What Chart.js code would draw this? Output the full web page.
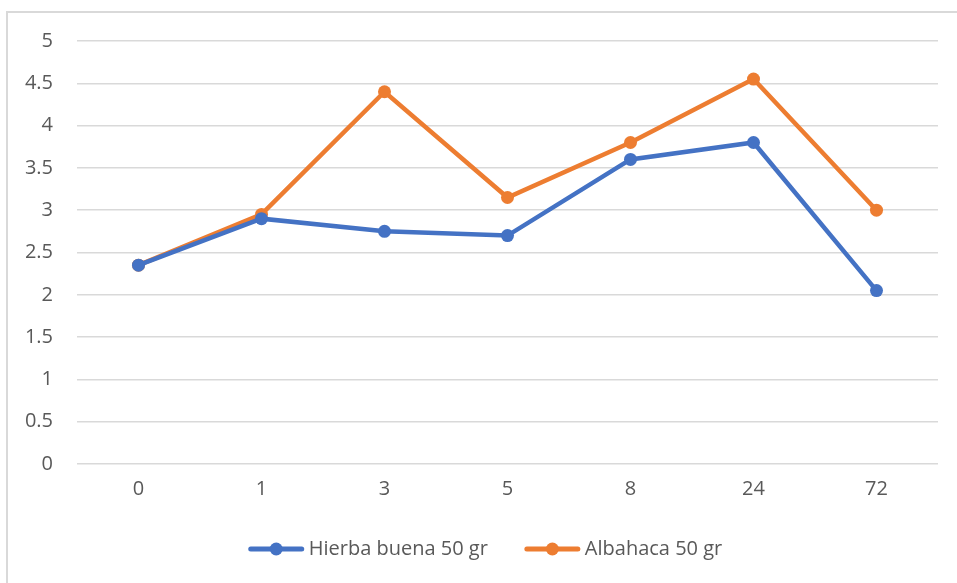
<!DOCTYPE html>
<html>
<head>
<meta charset="utf-8">
<script src="https://cdn.jsdelivr.net/npm/chart.js@4/dist/chart.umd.min.js"></script>
<style>
  html, body { margin: 0; padding: 0; width: 957px; height: 583px; overflow: hidden; background: #fff; }
  #frame { position: absolute; left: 6px; top: 11px; width: 2000px; height: 2000px; border: 2px solid #d9d9d9; box-sizing: border-box; }
  #c { position: absolute; left: 0; top: 0; }
</style>
</head>
<body>
<div id="frame"></div>
<canvas id="c" width="957" height="583"></canvas>
<script>
const categories = ["0", "1", "3", "5", "8", "24", "72"];
const hierbaBuena = [2.35, 2.9, 2.75, 2.7, 3.6, 3.8, 2.05];
const albahaca = [2.35, 2.95, 4.4, 3.15, 3.8, 4.55, 3.0];
const seriesNames = ["Hierba buena 50 gr", "Albahaca 50 gr"];
const seriesColors = ["#4472C4", "#ED7D31"];

const fontFamily = "'Open Sans', sans-serif";
const fontSize = 20;
const font = { family: fontFamily, size: fontSize };
const textColor = '#595959';

// Custom legend: line + dot icon, then label text (Excel style)
const lineLegend = {
  id: 'lineLegend',
  afterDraw(chart) {
    const ctx = chart.ctx;
    const ds = chart.data.datasets;
    ctx.save();
    ctx.font = fontSize + 'px ' + fontFamily;
    const iconW = 55, iconGap = 5, itemGap = 37;
    const widths = ds.map(d => ctx.measureText(d.label).width);
    let total = 0;
    widths.forEach((w, i) => { total += iconW + iconGap + w + (i < ds.length - 1 ? itemGap : 0); });
    const cy = chart.chartArea.bottom + 85;
    const cx = (chart.chartArea.left + chart.chartArea.right) / 2 - 22;
    let x = cx - total / 2;
    ds.forEach((d, i) => {
      ctx.strokeStyle = d.borderColor;
      ctx.lineWidth = 5;
      ctx.lineCap = 'round';
      ctx.beginPath(); ctx.moveTo(x + 2, cy); ctx.lineTo(x + iconW - 2, cy); ctx.stroke();
      ctx.fillStyle = d.borderColor;
      ctx.beginPath(); ctx.arc(x + iconW / 2, cy, 6.5, 0, Math.PI * 2); ctx.fill();
      ctx.fillStyle = textColor;
      ctx.textBaseline = 'middle';
      ctx.textAlign = 'left';
      ctx.fillText(d.label, x + iconW + iconGap, cy);
      x += iconW + iconGap + widths[i] + itemGap;
    });
    ctx.restore();
  }
};

new Chart(document.getElementById('c'), {
  type: 'line',
  data: {
    labels: categories,
    datasets: [
      { label: seriesNames[0], data: hierbaBuena, borderColor: seriesColors[0], backgroundColor: seriesColors[0],
        borderWidth: 4.5, pointRadius: 6.5, pointHoverRadius: 6.5, pointBorderWidth: 0, tension: 0 },
      { label: seriesNames[1], data: albahaca, borderColor: seriesColors[1], backgroundColor: seriesColors[1],
        borderWidth: 4.5, pointRadius: 6.5, pointHoverRadius: 6.5, pointBorderWidth: 0, tension: 0 }
    ]
  },
  plugins: [lineLegend],
  options: {
    responsive: false,
    animation: false,
    devicePixelRatio: 1,
    layout: { padding: { left: 0, right: 19, top: 41, bottom: 59 } },
    plugins: {
      tooltip: { enabled: false },
      legend: { display: false }
    },
    scales: {
      x: {
        offset: true,
        grid: { display: false, drawTicks: false },
        border: { display: false },
        ticks: { font: font, color: textColor, padding: 13 },
        afterFit: (s) => { s.height = 60; }
      },
      y: {
        min: 0, max: 5,
        grid: { color: '#d9d9d9', lineWidth: 1.5, drawTicks: false },
        border: { display: false },
        ticks: { stepSize: 0.5, font: font, color: textColor, padding: 24,
                 callback: (v) => String(Math.round(v * 10) / 10) },
        afterFit: (s) => { s.width = 77; }
      }
    }
  }
});
</script>
</body>
</html>
